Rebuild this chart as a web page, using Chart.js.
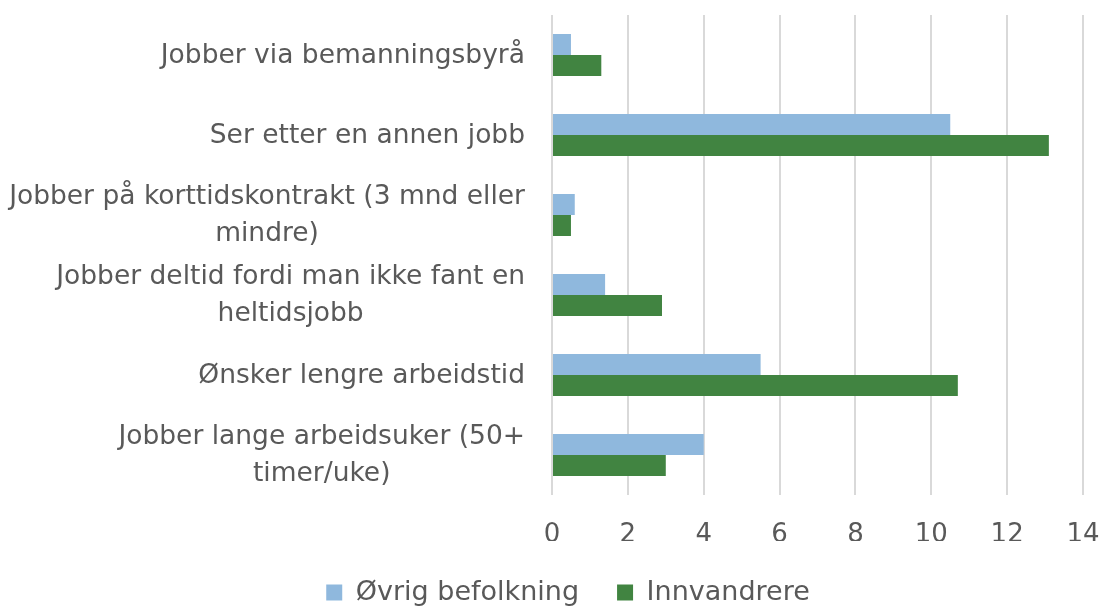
<!DOCTYPE html>
<html>
<head>
<meta charset="utf-8">
<script src="https://cdn.jsdelivr.net/npm/chart.js@4/dist/chart.umd.min.js"></script>
<style>
  html, body { margin: 0; padding: 0; background: #fff; }
  #wrap { width: 1102px; height: 608px; }
</style>
</head>
<body>
<div id="wrap"><canvas id="chart" width="1102" height="608"></canvas></div>
<script>
const categories = [
  ['Jobber via bemanningsbyrå'],
  ['Ser etter en annen jobb'],
  ['Jobber på korttidskontrakt (3 mnd eller', 'mindre)'],
  ['Jobber deltid fordi man ikke fant en', 'heltidsjobb'],
  ['Ønsker lengre arbeidstid'],
  ['Jobber lange arbeidsuker (50+', 'timer/uke)']
];
const ovrigBefolkning = [0.5, 10.5, 0.6, 1.4, 5.5, 4.0];
const innvandrere = [1.3, 13.1, 0.5, 2.9, 10.7, 3.0];
const xTicks = [0, 2, 4, 6, 8, 10, 12, 14];

const FONT = '"DejaVu Sans", Verdana, sans-serif';
const TEXT = '#595959';

// category labels: block right-aligned to the axis, lines centred inside the block
const categoryLabels = {
  id: 'categoryLabels',
  afterLayout(chart) {
    // nudge the legend a little right of the canvas centre
    chart.legend.left += 17;
    chart.legend.right += 17;
  },
  afterDraw(chart) {
    const { ctx, chartArea, scales } = chart;
    const y = scales.y;
    ctx.save();
    ctx.font = '26.5px ' + FONT;
    ctx.fillStyle = TEXT;
    ctx.textAlign = 'center';
    ctx.textBaseline = 'middle';
    categories.forEach((lines, i) => {
      const yc = y.getPixelForTick(i);
      const widest = Math.max(...lines.map(l => ctx.measureText(l).width));
      const xc = chartArea.left - 27 - widest / 2;
      lines.forEach((line, j) => {
        ctx.fillText(line, xc, yc + 1 + (j - (lines.length - 1) / 2) * 37);
      });
    });
    ctx.restore();
  }
};

new Chart(document.getElementById('chart'), {
  type: 'bar',
  data: {
    labels: categories,
    datasets: [
      {
        label: 'Øvrig befolkning',
        data: ovrigBefolkning,
        backgroundColor: '#8fb8dd',
        categoryPercentage: 0.525,
        barPercentage: 1
      },
      {
        label: 'Innvandrere',
        data: innvandrere,
        backgroundColor: '#418441',
        categoryPercentage: 0.525,
        barPercentage: 1
      }
    ]
  },
  options: {
    indexAxis: 'y',
    responsive: false,
    animation: false,
    layout: { padding: { top: 15, right: 0, left: 0, bottom: -8 } },
    plugins: {
      tooltip: { enabled: false },
      legend: {
        position: 'bottom',
        labels: {
          color: TEXT,
          font: { family: FONT, size: 27 },
          boxWidth: 16,
          boxHeight: 16,
          padding: 38
        }
      }
    },
    scales: {
      x: {
        min: 0,
        max: 14,
        afterBuildTicks: s => { s.ticks = xTicks.map(v => ({ value: v })); },
        afterFit: s => { s.height = 46; s.paddingRight = 19; },
        grid: { color: '#d9d9d9', lineWidth: 2, drawTicks: false },
        border: { display: false },
        ticks: { color: TEXT, font: { family: FONT, size: 26 }, padding: 25 }
      },
      y: {
        grid: { display: false },
        border: { display: false },
        ticks: { display: false },
        afterFit: s => { s.width = 552; }
      }
    }
  },
  plugins: [categoryLabels]
});
</script>
</body>
</html>
